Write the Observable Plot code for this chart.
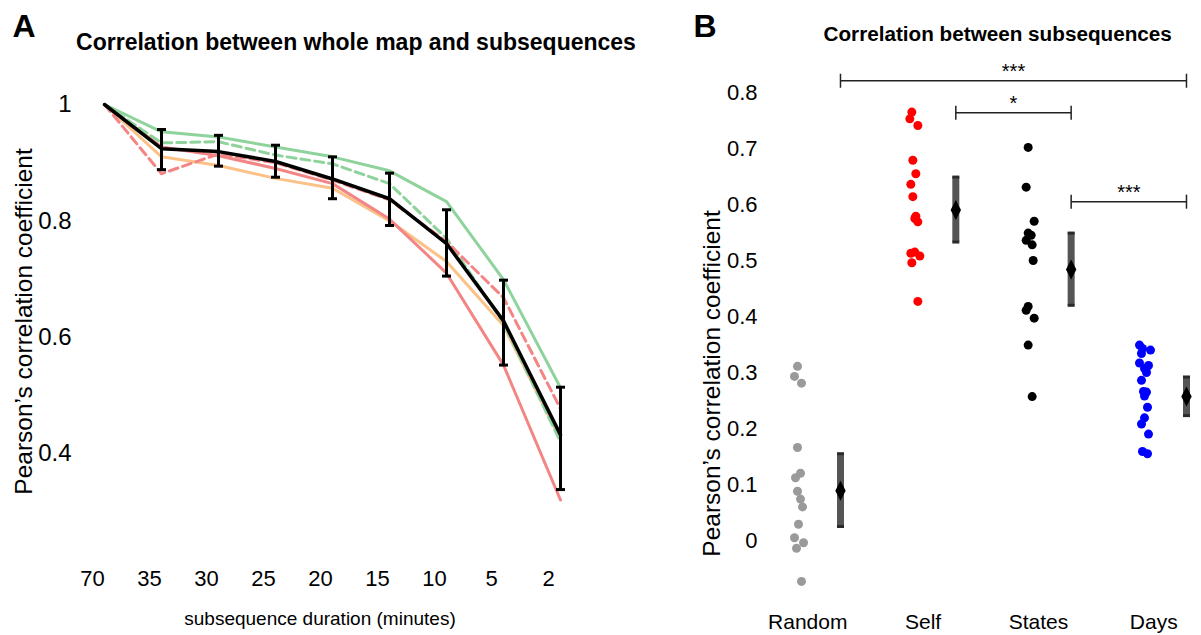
<!DOCTYPE html>
<html><head><meta charset="utf-8">
<script src="https://cdn.jsdelivr.net/npm/d3@7"></script>
<script src="https://cdn.jsdelivr.net/npm/@observablehq/plot@0.6"></script>
<style>
body{margin:0;background:#fff;}
#wrap{position:relative;width:1201px;height:635px;overflow:hidden;background:#fff;}
#a,#b{position:absolute;top:0;}
#a{left:0;width:600px;} #b{left:600px;width:601px;}
</style></head><body><div id="wrap"><div id="a"></div><div id="b"></div></div>
<script>
// ---------- Panel A data ----------
const durations = ["70","35","30","25","20","15","10","5","2"];
const greenSolid  = [1, 0.953, 0.944, 0.927, 0.910, 0.886, 0.833, 0.699, 0.513];
const greenDashed = [1, 0.934, 0.936, 0.913, 0.898, 0.864, 0.770, 0.625, 0.420];
const redSolid    = [1, 0.927, 0.912, 0.890, 0.864, 0.803, 0.710, 0.552, 0.320];
const redDashed   = [1, 0.881, 0.915, 0.900, 0.870, 0.836, 0.764, 0.668, 0.477];
const orangeSolid = [1, 0.910, 0.895, 0.873, 0.856, 0.800, 0.730, 0.620, 0.424];
const meanA       = [1, 0.924, 0.919, 0.902, 0.872, 0.838, 0.761, 0.628, 0.432];
const errLowA     = [null, 0.888, 0.894, 0.875, 0.838, 0.792, 0.705, 0.552, 0.338];
const errHighA    = [null, 0.957, 0.947, 0.930, 0.910, 0.882, 0.819, 0.698, 0.514];
const yTicksA = [0.4, 0.6, 0.8, 1];

// ---------- Panel B data ----------
const categories = ["Random", "Self", "States", "Days"];
const randomVals = [0.311, 0.293, 0.281, 0.166, 0.120, 0.112, 0.088, 0.074, 0.060, 0.029, 0.005, -0.004, -0.014, -0.073];
const selfVals   = [0.765, 0.753, 0.741, 0.679, 0.655, 0.636, 0.614, 0.579, 0.575, 0.569, 0.513, 0.515, 0.508, 0.496, 0.427];
const statesVals = [0.702, 0.631, 0.570, 0.549, 0.545, 0.536, 0.528, 0.500, 0.418, 0.411, 0.397, 0.349, 0.257];
const daysVals   = [0.349, 0.343, 0.340, 0.334, 0.317, 0.3125, 0.307, 0.300, 0.286, 0.266, 0.265, 0.258, 0.238, 0.219, 0.208, 0.190, 0.159, 0.155];
// horizontal scatter (pixels)
const randomJit = [-1, -4, 3, -1, 2, -3, -1, 2, 4, 0, -4, 5, -2, 3];
const selfJit   = [-2, -4, 4, -1, 2, -3, -1, 2, 1, 4, -3, 1, 6, -2, 4];
const statesJit = [-1, -3, 5, -1, 2, -3, 3, 4, -1, -3, 5, -1, 3];
const daysJit   = [-5, -2, 6, -3, -5, 4, 0, 2, -3, -1, 2, 0, 3, 0, -3, 4, -2, 3];
const meanB = [0.089, 0.590, 0.484, 0.257];
const lowB  = [0.025, 0.533, 0.420, 0.223];
const highB = [0.155, 0.649, 0.549, 0.292];
const bracketFrom  = ["Random", "Self", "States"];
const bracketTo    = ["Days", "States", "Days"];
const bracketY     = [0.821, 0.764, 0.605];
const bracketLabel = ["***", "*", "***"];
const yTicksB = [0, 0.1, 0.2, 0.3, 0.4, 0.5, 0.6, 0.7, 0.8];

// ---------- styles ----------
const FONT = "'Liberation Sans', Arial, sans-serif";
const GREEN = "#8fd39c", RED = "#f38585", ORANGE = "#fbc187";
const fmt = d => String(+d.toFixed(1));
const capSymbol = {draw(ctx, size){const w = Math.sqrt(size/Math.PI); ctx.moveTo(-w,0); ctx.lineTo(w,0);}};
const vSymbol = {draw(ctx, size){const w = Math.sqrt(size/Math.PI); ctx.moveTo(0,-w); ctx.lineTo(0,w);}};
const diamond = {draw(ctx, size){const r = Math.sqrt(size/Math.PI); ctx.moveTo(0,-r); ctx.lineTo(r*0.52,0); ctx.lineTo(0,r); ctx.lineTo(-r*0.52,0); ctx.closePath();}};

const series = (vals) => durations.map((d,i) => ({d, v: vals[i]}));
const errRows = durations.map((d,i) => ({d, lo: errLowA[i], hi: errHighA[i]})).filter(r => r.lo != null);

// ---------- Panel A ----------
const chartA = Plot.plot({
  width: 600, height: 635,
  marginLeft: 103, marginRight: 40, marginTop: 100, marginBottom: 93,
  style: {fontFamily: FONT, background: "transparent", overflow: "visible"},
  x: {type: "point", domain: durations, padding: 0},
  y: {domain: [0.4, 1], range: [453, 104]},
  marks: [
    Plot.axisY({ticks: yTicksA, tickFormat: fmt, tickSize: 0, tickPadding: 32, fontSize: 24, label: null}),
    Plot.axisX({tickSize: 0, tickPadding: 28, fontSize: 22, dx: -12, label: null}),
    Plot.line(series(orangeSolid), {x: "d", y: "v", stroke: ORANGE, strokeWidth: 3}),
    Plot.line(series(redSolid), {x: "d", y: "v", stroke: RED, strokeWidth: 3}),
    Plot.line(series(greenSolid), {x: "d", y: "v", stroke: GREEN, strokeWidth: 3}),
    Plot.line(series(greenDashed), {x: "d", y: "v", stroke: GREEN, strokeWidth: 3, strokeDasharray: "9,5"}),
    Plot.line(series(redDashed), {x: "d", y: "v", stroke: RED, strokeWidth: 3, strokeDasharray: "9,5"}),
    Plot.ruleX(errRows, {x: "d", y1: "lo", y2: "hi", stroke: "black", strokeWidth: 3}),
    Plot.dot(errRows, {x: "d", y: "lo", symbol: capSymbol, r: 4.5, stroke: "black", strokeWidth: 3}),
    Plot.dot(errRows, {x: "d", y: "hi", symbol: capSymbol, r: 4.5, stroke: "black", strokeWidth: 3}),
    Plot.line(series(meanA), {x: "d", y: "v", stroke: "black", strokeWidth: 3.5}),
    Plot.text(["Pearson’s correlation coefficient"], {text: d => d, frameAnchor: "left", textAnchor: "middle", lineAnchor: "middle", rotate: -90, dx: -79, fontSize: 24.5}),
    Plot.text(["subsequence duration (minutes)"], {text: d => d, frameAnchor: "bottom", lineAnchor: "middle", dx: -12, dy: 76, fontSize: 19}),
    Plot.text(["Correlation between whole map and subsequences"], {text: d => d, frameAnchor: "top", lineAnchor: "middle", dx: 24, dy: -58, fontSize: 23, fontWeight: "bold"}),
    Plot.text(["A"], {text: d => d, frameAnchor: "top-left", textAnchor: "start", lineAnchor: "middle", dx: -91, dy: -74, fontSize: 32, fontWeight: "bold"})
  ]
});
document.getElementById("a").append(chartA);

// ---------- Panel B ----------
const SUMMARY_OFFSET = 0.364;
const catIndex = c => categories.indexOf(c);
const valsB = [randomVals, selfVals, statesVals, daysVals];
const jitB = [randomJit, selfJit, statesJit, daysJit];
const colorsB = ["#9a9a9a", "#ff0000", "#000000", "#0000ff"];
const PX_PER_CAT = 115.3;
const dotRows = (k) => valsB[k].map((v,i) => ({x: k + jitB[k][i]/PX_PER_CAT, v}));
const summRows = categories.map((c,k) => ({x: k + SUMMARY_OFFSET, m: meanB[k], lo: lowB[k], hi: highB[k]}));
const brRows = bracketY.map((y,i) => ({x1: catIndex(bracketFrom[i]) + SUMMARY_OFFSET, x2: catIndex(bracketTo[i]) + SUMMARY_OFFSET, y, label: bracketLabel[i]}));
const brEnds = brRows.flatMap(b => [{x: b.x1, y: b.y}, {x: b.x2, y: b.y}]);

const chartB = Plot.plot({
  width: 601, height: 635,
  marginLeft: 170, marginRight: 0, marginTop: 140, marginBottom: 9,
  style: {fontFamily: FONT, background: "transparent", overflow: "visible"},
  x: {domain: [0, 3], range: [198, 544], axis: null},
  y: {domain: [0, 0.8], range: [540, 92]},
  marks: [
    Plot.axisY({ticks: yTicksB, tickFormat: fmt, tickSize: 0, tickPadding: 13, fontSize: 22, label: null}),
    ...[0,1,2,3].map(k => Plot.dot(dotRows(k), {x: "x", y: "v", r: 4.5, fill: colorsB[k]})),
    Plot.ruleX(summRows, {x: "x", y1: "lo", y2: "hi", stroke: "#555", strokeWidth: 7}),
    Plot.dot(summRows, {x: "x", y: "lo", symbol: capSymbol, r: 3.5, stroke: "#2a2a2a", strokeWidth: 3}),
    Plot.dot(summRows, {x: "x", y: "hi", symbol: capSymbol, r: 3.5, stroke: "#2a2a2a", strokeWidth: 3}),
    Plot.dot(summRows, {x: "x", y: "m", symbol: diamond, r: 10, fill: "black"}),
    Plot.link(brRows, {x1: "x1", x2: "x2", y1: "y", y2: "y", stroke: "#222", strokeWidth: 1.5}),
    Plot.dot(brEnds, {x: "x", y: "y", symbol: vSymbol, r: 7, stroke: "#222", strokeWidth: 1.5}),
    Plot.text(brRows, {x: d => (d.x1 + d.x2)/2, y: "y", text: "label", lineAnchor: "bottom", dy: -3, fontSize: 20}),
    Plot.text(categories, {x: (d,i) => i + 0.08, text: d => d, frameAnchor: "bottom", lineAnchor: "middle", dy: -4, fontSize: 21}),
    Plot.text(["Pearson’s correlation coefficient"], {text: d => d, frameAnchor: "left", textAnchor: "middle", lineAnchor: "middle", rotate: -90, dx: -58, fontSize: 24.5}),
    Plot.text(["Correlation between subsequences"], {text: d => d, frameAnchor: "top-left", textAnchor: "start", lineAnchor: "middle", dx: 53, dy: -106, fontSize: 20.7, fontWeight: "bold"}),
    Plot.text(["B"], {text: d => d, frameAnchor: "top-left", textAnchor: "start", lineAnchor: "middle", dx: -77, dy: -114, fontSize: 32, fontWeight: "bold"})
  ]
});
document.getElementById("b").append(chartB);
</script></body></html>
